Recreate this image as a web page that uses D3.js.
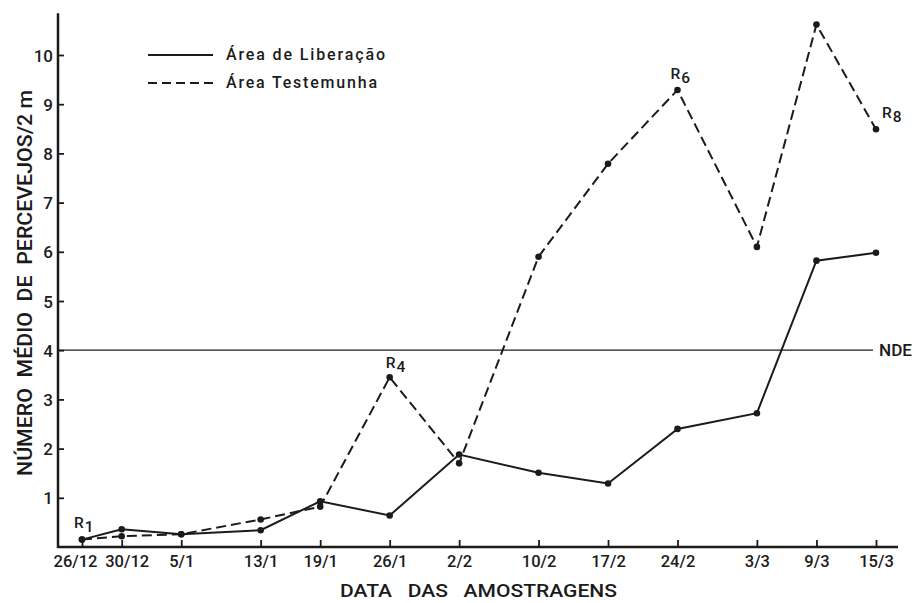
<!DOCTYPE html>
<html>
<head>
<meta charset="utf-8">
<script src="https://cdn.jsdelivr.net/npm/d3@7"></script>
<style>
  html, body { margin: 0; padding: 0; background: #fff; }
  svg { display: block; font-family: Roboto, "Liberation Sans", Arial, sans-serif; font-weight: 500; }
</style>
</head>
<body>
<svg id="chart" width="915" height="603"></svg>
<script>
// ---- data ----
const dateLabels = ["26/12", "30/12", "5/1", "13/1", "19/1", "26/1", "2/2", "10/2", "17/2", "24/2", "3/3", "9/3", "15/3"];
const dates = ["1979-12-26", "1979-12-30", "1980-01-05", "1980-01-13", "1980-01-19", "1980-01-26", "1980-02-02",
               "1980-02-10", "1980-02-17", "1980-02-24", "1980-03-03", "1980-03-09", "1980-03-15"];
const liberacao   = [0.15, 0.36, 0.26, 0.34, 0.93, 0.64, 1.88, 1.51, 1.29, 2.40, 2.72, 5.82, 5.98];
const testemunha  = [0.15, 0.22, 0.26, 0.56, 0.82, 3.45, 1.70, 5.90, 7.79, 9.29, 6.10, 10.62, 8.49];
const yTicks = [1, 2, 3, 4, 5, 6, 7, 8, 9, 10];
const nde = 4;
const seriesNames = ["Área de Liberação", "Área Testemunha"];
const annotations = [
  { idx: 0,  base: "R", sub: "1", dx: -8, dy: -12 },
  { idx: 5,  base: "R", sub: "4", dx: -4, dy: -9 },
  { idx: 9,  base: "R", sub: "6", dx: -7, dy: -11 },
  { idx: 12, base: "R", sub: "8", dx: 6,  dy: -11 }
];

// ---- setup ----
const ink = "#1b1b1b";
const font = "Roboto, 'Liberation Sans', Arial, sans-serif";
const parse = d3.utcParse("%Y-%m-%d");
const dts = dates.map(parse);
const svg = d3.select("#chart");

const axisX0 = 58, axisX1 = 898;
const x = d3.scaleUtc().domain([dts[0], dts[dts.length - 1]]).range([82, 876]);
const y = d3.scaleLinear().domain([0, 10]).range([547, 55]);
const yTop = 10.85;

// ---- NDE line ----
svg.append("line")
  .attr("x1", axisX0).attr("x2", 873)
  .attr("y1", y(nde)).attr("y2", y(nde))
  .attr("stroke", ink).attr("stroke-width", 1.3);
svg.append("text")
  .attr("x", 879).attr("y", y(nde) + 6)
  .attr("font-size", 16).attr("fill", ink)
  .attr("textLength", 33).attr("lengthAdjust", "spacingAndGlyphs")
  .text("NDE");

// ---- axes ----
const gx = svg.append("g").attr("transform", `translate(0,${y(0)})`);
gx.call(d3.axisBottom(x).tickValues(dts).tickSize(0).tickFormat((d, i) => dateLabels[i]));
gx.select(".domain").remove();
gx.selectAll(".tick text")
  .attr("font-size", 16.5).attr("fill", ink).attr("font-family", font).attr("font-weight", 500)
  .attr("y", 20).attr("dy", 0)
  .attr("dx", (d, i) => i === 0 ? -7 : (i === 1 ? 5 : 0));
gx.selectAll(".tick").append("line")
  .attr("y1", 0).attr("y2", -7).attr("stroke", ink).attr("stroke-width", 1.8);
gx.append("line").attr("x1", axisX0).attr("x2", axisX1).attr("y1", 0).attr("y2", 0)
  .attr("stroke", ink).attr("stroke-width", 2.5);

const gy = svg.append("g").attr("transform", `translate(${axisX0},0)`);
gy.call(d3.axisLeft(y).tickValues(yTicks).tickSize(0).tickFormat(d3.format("d")));
gy.select(".domain").remove();
gy.selectAll(".tick text")
  .attr("font-size", 17).attr("fill", ink).attr("font-family", font).attr("font-weight", 500)
  .attr("x", -5).attr("dy", "0.36em");
gy.selectAll(".tick").append("line")
  .attr("x1", 0).attr("x2", 6).attr("stroke", ink).attr("stroke-width", 1.8);
gy.append("line").attr("x1", 0).attr("x2", 0).attr("y1", y(0) + 1).attr("y2", y(yTop))
  .attr("stroke", ink).attr("stroke-width", 2.5);

// ---- series ----
const line = d3.line().x((d, i) => x(dts[i])).y(d => y(d));
svg.append("path").datum(testemunha)
  .attr("d", line).attr("fill", "none").attr("stroke", ink)
  .attr("stroke-width", 2).attr("stroke-dasharray", "10,5");
svg.append("path").datum(liberacao)
  .attr("d", line).attr("fill", "none").attr("stroke", ink).attr("stroke-width", 2);

[testemunha, liberacao].forEach(s => {
  svg.append("g").selectAll("circle").data(s).join("circle")
    .attr("cx", (d, i) => x(dts[i])).attr("cy", d => y(d)).attr("r", 3.3).attr("fill", ink);
});

// ---- annotations ----
annotations.forEach(a => {
  const px = x(dts[a.idx]), py = y(testemunha[a.idx]);
  const t = svg.append("text").attr("x", px + a.dx).attr("y", py + a.dy)
    .attr("font-size", 15.5).attr("fill", ink);
  t.append("tspan").text(a.base);
  t.append("tspan").attr("dy", 4).attr("dx", 1).text(a.sub);
});

// ---- legend ----
const lg = svg.append("g");
[0, 1].forEach(i => {
  const ly = 55 + i * 28;
  lg.append("line").attr("x1", 148).attr("x2", 213).attr("y1", ly).attr("y2", ly)
    .attr("stroke", ink).attr("stroke-width", 2)
    .attr("stroke-dasharray", i === 1 ? "9,5" : null);
  lg.append("text").attr("x", 226).attr("y", ly + 5)
    .attr("font-size", 16).attr("fill", ink)
    .attr("textLength", i === 0 ? 159 : 151).attr("lengthAdjust", "spacing")
    .text(seriesNames[i]);
});

// ---- axis titles ----
svg.append("text").attr("x", 340).attr("y", 597)
  .attr("font-size", 19).attr("fill", ink)
  .style("white-space", "pre")
  .attr("textLength", 277).attr("lengthAdjust", "spacingAndGlyphs")
  .text("DATA   DAS   AMOSTRAGENS");
svg.append("text")
  .attr("transform", "translate(32,476) rotate(-90)")
  .attr("font-size", 20).attr("fill", ink)
  .style("white-space", "pre")
  .attr("textLength", 386).attr("lengthAdjust", "spacingAndGlyphs")
  .text("NÚMERO  MÉDIO  DE  PERCEVEJOS/2 m");
</script>
</body>
</html>
